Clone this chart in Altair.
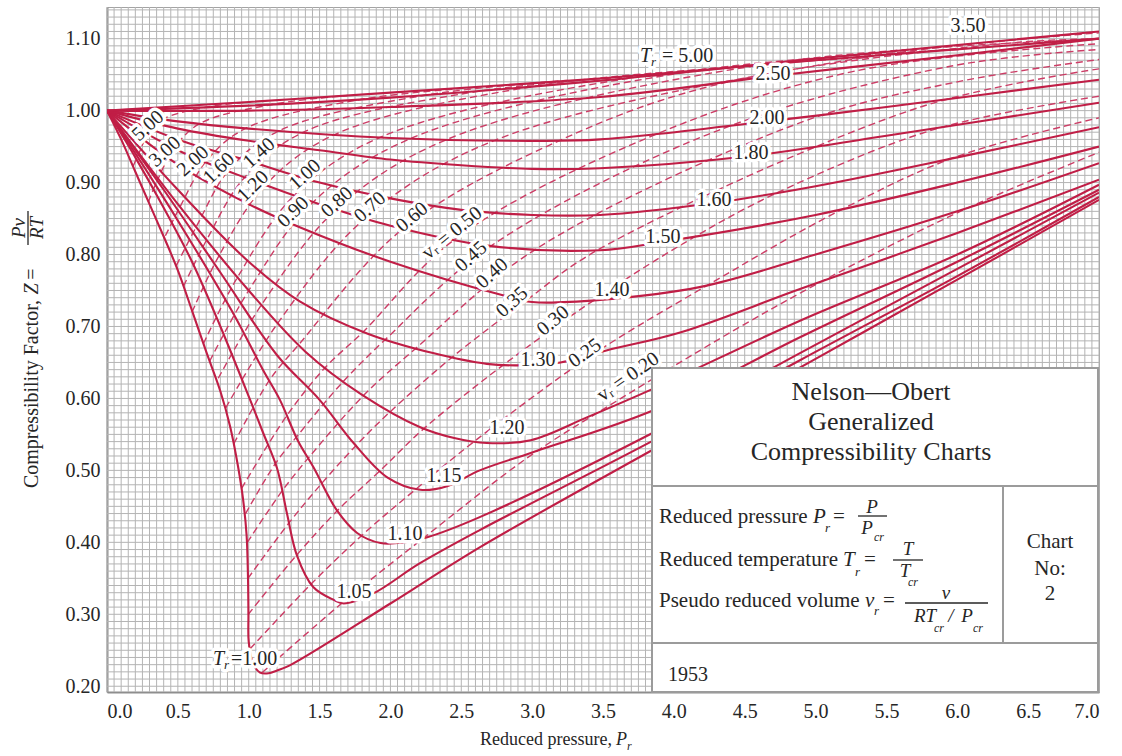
import altair as alt
import numpy as np
import pandas as pd

# ---------------------------------------------------------------- style
RED = "#c01e46"
RED_DASH = "#cc3d66"
INK = "#262626"
GRID = "#b4b4b4"
FRAME = "#8e8e8e"
SERIF = "Liberation Serif"

# ---------------------------------------------------------------- axes
PR_DOMAIN = [0.0, 7.0]
Z_DOMAIN = [0.192, 1.144]
X_TICKS = [0.0, 0.5, 1.0, 1.5, 2.0, 2.5, 3.0, 3.5, 4.0, 4.5, 5.0, 5.5, 6.0, 6.5, 7.0]
Y_TICKS = [0.2, 0.3, 0.4, 0.5, 0.6, 0.7, 0.8, 0.9, 1.0, 1.1]

# ---------------------------------------------------------------- isotherms (solid), T_r
T100_PR = [0.0, 0.1, 0.2, 0.3, 0.4, 0.5, 0.6, 0.7, 0.8, 0.87, 0.925, 0.96, 0.985, 0.995, 0.998, 1.0,
           1.03, 1.08, 1.14, 1.2, 1.29, 2.0, 2.63, 4.0, 5.0, 6.0, 7.0]
T100_Z = [1.0, 0.96, 0.915, 0.87, 0.825, 0.778, 0.722, 0.665, 0.61, 0.56, 0.505, 0.46, 0.41, 0.35, 0.30, 0.262,
          0.232, 0.219, 0.218, 0.222, 0.229, 0.315, 0.393, 0.545, 0.655, 0.765, 0.876]
T105_PR = [0.0, 0.2, 0.4, 0.6, 0.8, 1.01, 1.1, 1.2, 1.27, 1.34, 1.455, 1.6, 1.67, 1.88, 2.2, 2.63, 3.86, 4.89, 6.0, 7.0]
T105_Z = [1.0, 0.935, 0.865, 0.79, 0.70, 0.598, 0.553, 0.503, 0.44, 0.382, 0.338, 0.32, 0.315, 0.329, 0.37, 0.417,
          0.542, 0.653, 0.77, 0.88]
T110_PR = [0.0, 0.3, 0.6, 0.9, 1.1, 1.22, 1.35, 1.455, 1.62, 1.765, 1.93, 2.1, 2.26, 2.63, 3.86, 4.89, 6.0, 7.0]
T110_Z = [1.0, 0.91, 0.815, 0.715, 0.64, 0.598, 0.54, 0.505, 0.445, 0.413, 0.399, 0.40, 0.407, 0.435, 0.553,
          0.663, 0.78, 0.886]
T115_PR = [0.0, 0.4, 0.8, 1.2, 1.5, 1.74, 1.98, 2.21, 2.4, 2.63, 3.0, 3.86, 4.89, 6.0, 7.0]
T115_Z = [1.0, 0.89, 0.775, 0.66, 0.598, 0.538, 0.49, 0.473, 0.478, 0.50, 0.525, 0.584, 0.685, 0.79, 0.890]
T120_PR = [0.0, 0.5, 1.0, 1.4, 1.8, 2.21, 2.45, 2.68, 2.99, 3.39, 3.86, 4.89, 6.0, 7.0]
T120_Z = [1.0, 0.87, 0.75, 0.665, 0.605, 0.56, 0.545, 0.538, 0.542, 0.574, 0.614, 0.708, 0.80, 0.897]
T130_PR = [0.0, 0.5, 1.0, 1.36, 1.84, 2.3, 2.68, 2.92, 3.2, 3.53, 4.05, 4.89, 6.0, 7.0]
T130_Z = [1.0, 0.89, 0.79, 0.735, 0.69, 0.663, 0.648, 0.646, 0.65, 0.667, 0.692, 0.752, 0.83, 0.904]
T140_PR = [0.0, 0.5, 1.0, 1.36, 2.0, 2.78, 3.0, 3.48, 4.19, 5.0, 6.0, 7.0]
T140_Z = [1.0, 0.925, 0.87, 0.838, 0.79, 0.744, 0.734, 0.737, 0.755, 0.80, 0.86, 0.927]
T150_PR = [0.0, 0.5, 1.0, 1.5, 2.0, 2.7, 3.48, 3.93, 5.0, 6.0, 7.0]
T150_Z = [1.0, 0.945, 0.905, 0.87, 0.84, 0.812, 0.806, 0.818, 0.855, 0.90, 0.950]
T160_PR = [0.0, 0.5, 1.0, 1.5, 2.0, 2.5, 3.0, 3.48, 4.29, 5.0, 6.0, 7.0]
T160_Z = [1.0, 0.96, 0.93, 0.90, 0.878, 0.862, 0.855, 0.855, 0.872, 0.895, 0.935, 0.977]
T180_PR = [0.0, 0.5, 1.0, 1.5, 2.0, 2.5, 3.0, 3.48, 4.54, 5.5, 7.0]
T180_Z = [1.0, 0.975, 0.958, 0.945, 0.932, 0.924, 0.919, 0.92, 0.937, 0.965, 1.011]
T200_PR = [0.0, 0.5, 1.0, 2.0, 3.0, 3.48, 4.66, 5.5, 7.0]
T200_Z = [1.0, 0.985, 0.975, 0.962, 0.958, 0.96, 0.985, 1.005, 1.043]
T250_PR = [0.0, 1.0, 2.0, 3.48, 4.7, 6.0, 7.0]
T250_Z = [1.0, 1.0, 1.005, 1.019, 1.048, 1.077, 1.10]
T350_PR = [0.0, 1.0, 2.0, 3.5, 5.0, 7.0]
T350_Z = [1.0, 1.007, 1.018, 1.042, 1.072, 1.11]
T500_PR = [0.0, 1.0, 2.0, 3.5, 5.0, 7.0]
T500_Z = [1.0, 1.012, 1.025, 1.045, 1.07, 1.10]

# ---------------------------------------------------------------- pseudo reduced volume lines (dashed), v_r
V500_PR = [0.185, 0.226, 0.29, 0.395, 0.703, 1.012]
V500_Z = [0.923, 0.941, 0.968, 0.988, 1.005, 1.012]
V300_PR = [0.291, 0.362, 0.474, 0.655, 1.177, 1.70]
V300_Z = [0.873, 0.906, 0.948, 0.982, 1.009, 1.021]
V200_PR = [0.412, 0.52, 0.697, 0.975, 1.776, 2.58]
V200_Z = [0.826, 0.868, 0.929, 0.975, 1.015, 1.032]
V160_PR = [0.49, 0.631, 0.862, 1.215, 2.233, 3.25]
V160_Z = [0.785, 0.839, 0.918, 0.972, 1.021, 1.042]
V140_PR = [0.54, 0.705, 0.97, 1.386, 2.56, 3.74]
V140_Z = [0.756, 0.821, 0.907, 0.970, 1.025, 1.048]
V120_PR = [0.60, 0.795, 1.12, 1.61, 3.02, 4.42]
V120_Z = [0.720, 0.800, 0.897, 0.967, 1.034, 1.060]
V100_PR = [0.68, 0.92, 1.325, 1.93, 3.65, 5.37]
V100_Z = [0.676, 0.768, 0.883, 0.963, 1.044, 1.074]
V090_PR = [0.725, 1.0, 1.455, 2.14, 4.1, 6.03]
V090_Z = [0.652, 0.750, 0.873, 0.961, 1.054, 1.085]
V080_PR = [0.785, 1.10, 1.62, 2.40, 4.66, 6.85]
V080_Z = [0.628, 0.733, 0.863, 0.960, 1.065, 1.098]
V070_PR = [0.838, 1.21, 1.82, 2.74, 5.35, 7.0]
V070_Z = [0.587, 0.706, 0.850, 0.959, 1.074, 1.108]
V060_PR = [0.895, 1.145, 1.35, 2.09, 3.2, 4.32, 6.38, 7.0]
V060_Z = [0.537, 0.625, 0.674, 0.836, 0.959, 1.037, 1.094, 1.100]
V050_PR = [0.95, 1.265, 1.54, 1.8, 2.46, 3.86, 5.28, 7.0]
V050_Z = [0.475, 0.575, 0.643, 0.691, 0.822, 0.966, 1.055, 1.093]
V045_PR = [0.978, 1.19, 1.335, 1.66, 1.97, 2.71, 4.32, 5.96, 7.0]
V045_Z = [0.44, 0.51, 0.546, 0.622, 0.683, 0.812, 0.973, 1.062, 1.085]
V040_PR = [0.99, 1.238, 1.42, 1.81, 2.17, 3.03, 4.93, 6.0, 7.0]
V040_Z = [0.40, 0.472, 0.517, 0.604, 0.668, 0.808, 0.986, 1.04, 1.071]
V035_PR = [0.995, 1.284, 1.52, 1.76, 1.99, 2.44, 2.95, 3.46, 5.74, 7.0]
V035_Z = [0.35, 0.427, 0.483, 0.535, 0.58, 0.658, 0.735, 0.806, 1.005, 1.058]
V030_PR = [0.997, 1.337, 1.625, 1.93, 2.23, 2.80, 3.44, 4.09, 4.71, 5.84, 7.0]
V030_Z = [0.30, 0.382, 0.444, 0.50, 0.557, 0.647, 0.737, 0.818, 0.884, 0.974, 1.02]
V025_PR = [1.01, 1.44, 1.80, 2.18, 2.59, 3.42, 4.27, 5.14, 5.98, 7.0]
V025_Z = [0.252, 0.342, 0.41, 0.474, 0.54, 0.66, 0.761, 0.858, 0.935, 0.99]
V020_PR = [1.095, 1.655, 2.24, 2.97, 3.56, 4.74, 6.0, 7.0]
V020_Z = [0.219, 0.315, 0.407, 0.518, 0.592, 0.730, 0.858, 0.942]

# ---------------------------------------------------------------- curve labels
TR_LABEL_TEXT = ["3.50", "2.50", "2.00", "1.80", "1.60", "1.50", "1.40", "1.30", "1.20", "1.15", "1.10", "1.05"]
TR_LABEL_PR = [6.076, 4.700, 4.658, 4.545, 4.284, 3.924, 3.564, 3.042, 2.823, 2.378, 2.103, 1.743]
TR_LABEL_Z = [1.118, 1.051, 0.990, 0.941, 0.876, 0.824, 0.751, 0.653, 0.559, 0.492, 0.412, 0.331]

VR_LABEL_TEXT = ["5.00", "3.00", "2.00", "1.60", "1.40", "1.20", "1.00", "0.90", "0.80", "0.70", "0.60",
                 "v\u1d63 = 0.50", "0.45", "0.40", "0.35", "0.30", "0.25", "v\u1d63 = 0.20"]
VR_LABEL_PR = [0.289, 0.409, 0.607, 0.790, 1.073, 1.030, 1.397, 1.313, 1.623, 1.856, 2.152,
               2.435, 2.569, 2.717, 2.858, 3.148, 3.373, 3.677]
VR_LABEL_Z = [0.979, 0.943, 0.930, 0.920, 0.941, 0.895, 0.911, 0.859, 0.873, 0.866, 0.852,
              0.830, 0.797, 0.774, 0.734, 0.708, 0.663, 0.630]
VR_LABEL_ANGLE = [318, 318, 318, 316, 318, 316, 318, 316, 318, 318, 320,
                  321, 318, 318, 318, 320, 324, 325]


def long_table(series, key):
    rows = []
    for name, prs, zs in series:
        for i, (p, z) in enumerate(zip(prs, zs)):
            rows.append({key: name, "i": i, "Pr": p, "Z": z})
    return pd.DataFrame(rows)


iso_df = long_table([
    ("1.00", T100_PR, T100_Z), ("1.05", T105_PR, T105_Z), ("1.10", T110_PR, T110_Z),
    ("1.15", T115_PR, T115_Z), ("1.20", T120_PR, T120_Z), ("1.30", T130_PR, T130_Z),
    ("1.40", T140_PR, T140_Z), ("1.50", T150_PR, T150_Z), ("1.60", T160_PR, T160_Z),
    ("1.80", T180_PR, T180_Z), ("2.00", T200_PR, T200_Z), ("2.50", T250_PR, T250_Z),
    ("3.50", T350_PR, T350_Z), ("5.00", T500_PR, T500_Z),
], "Tr")

vr_df = long_table([
    ("5.00", V500_PR, V500_Z), ("3.00", V300_PR, V300_Z), ("2.00", V200_PR, V200_Z),
    ("1.60", V160_PR, V160_Z), ("1.40", V140_PR, V140_Z), ("1.20", V120_PR, V120_Z),
    ("1.00", V100_PR, V100_Z), ("0.90", V090_PR, V090_Z), ("0.80", V080_PR, V080_Z),
    ("0.70", V070_PR, V070_Z), ("0.60", V060_PR, V060_Z), ("0.50", V050_PR, V050_Z),
    ("0.45", V045_PR, V045_Z), ("0.40", V040_PR, V040_Z), ("0.35", V035_PR, V035_Z),
    ("0.30", V030_PR, V030_Z), ("0.25", V025_PR, V025_Z), ("0.20", V020_PR, V020_Z),
], "vr")

# ---------------------------------------------------------------- scales / encodings
XS = alt.Scale(domain=PR_DOMAIN, nice=False, zero=False)
YS = alt.Scale(domain=Z_DOMAIN, nice=False, zero=False)
X_AXIS = alt.Axis(values=X_TICKS, format=".1f", title=None, grid=False, ticks=False,
                  labelFont=SERIF, labelFontSize=20, labelColor=INK, labelPadding=9,
                  domainColor=FRAME, domainWidth=2)
Y_AXIS = alt.Axis(values=Y_TICKS, format=".2f", title=None, grid=False, ticks=False,
                  labelFont=SERIF, labelFontSize=20, labelColor=INK, labelPadding=7,
                  domainColor=FRAME, domainWidth=2)


def X():
    return alt.X("Pr:Q", scale=XS, axis=X_AXIS)


def Y():
    return alt.Y("Z:Q", scale=YS, axis=Y_AXIS)


def text_mark(df, size, style="normal", align="center", dx=0, dy=0, halo=False,
              pixel=False, angle=False, color=INK):
    if pixel:
        enc = {"x": alt.X("px:Q", scale=None, axis=None), "y": alt.Y("py:Q", scale=None, axis=None)}
    else:
        enc = {"x": X(), "y": Y()}
    enc["text"] = alt.Text("t:N")
    if angle:
        enc["angle"] = alt.Angle("a:Q", scale=None)
    props = dict(font=SERIF, fontSize=size, fontStyle=style, align=align, baseline="middle", dx=dx, dy=dy)
    if halo:
        mk = alt.Chart(df).mark_text(fill="white", stroke="white", strokeWidth=7, strokeJoin="round", **props)
    else:
        mk = alt.Chart(df).mark_text(fill=color, **props)
    return mk.encode(**enc)


# ---------------------------------------------------------------- grid
grid_pr = np.round(np.arange(0.0, 7.0 + 1e-9, 0.05), 2)
grid_z = np.round(np.arange(0.20, 1.14 + 1e-9, 0.01), 2)
vgrid = alt.Chart(pd.DataFrame({"Pr": grid_pr})).mark_rule(color=GRID, strokeWidth=1).encode(x=X())
hgrid = alt.Chart(pd.DataFrame({"Z": grid_z})).mark_rule(color=GRID, strokeWidth=1).encode(y=Y())

# ---------------------------------------------------------------- curves
dashed = alt.Chart(vr_df).mark_line(
    color=RED_DASH, strokeWidth=1.4, strokeDash=[7, 4], interpolate="catmull-rom", clip=True
).encode(x=X(), y=Y(), detail="vr:N", order="i:Q")
solid = alt.Chart(iso_df).mark_line(
    color=RED, strokeWidth=2.1, interpolate="catmull-rom", clip=True
).encode(x=X(), y=Y(), detail="Tr:N", order="i:Q")

# ---------------------------------------------------------------- curve labels
tr_lab = pd.DataFrame({"Pr": TR_LABEL_PR, "Z": TR_LABEL_Z, "t": TR_LABEL_TEXT})
vr_lab = pd.DataFrame({"Pr": VR_LABEL_PR, "Z": VR_LABEL_Z, "t": VR_LABEL_TEXT, "a": VR_LABEL_ANGLE})
tag_hi = pd.DataFrame({"Pr": [3.761], "Z": [1.076], "t": ["T"]})
tag_hi_r = pd.DataFrame({"Pr": [3.761], "Z": [1.076], "t": ["r"]})
tag_hi_v = pd.DataFrame({"Pr": [3.761], "Z": [1.076], "t": ["= 5.00"]})
tag_lo = pd.DataFrame({"Pr": [0.748], "Z": [0.238], "t": ["T"]})
tag_lo_r = pd.DataFrame({"Pr": [0.748], "Z": [0.238], "t": ["r"]})
tag_lo_v = pd.DataFrame({"Pr": [0.748], "Z": [0.238], "t": ["=1.00"]})

label_specs = [
    (tr_lab, dict(size=20)),
    (vr_lab, dict(size=20, angle=True)),
    (tag_hi, dict(size=20, style="italic", align="left")),
    (tag_hi_r, dict(size=13, style="italic", align="left", dx=11, dy=6)),
    (tag_hi_v, dict(size=20, align="left", dx=22)),
    (tag_lo, dict(size=20, style="italic", align="left")),
    (tag_lo_r, dict(size=13, style="italic", align="left", dx=11, dy=6)),
    (tag_lo_v, dict(size=20, align="left", dx=18)),
]
label_halos = [text_mark(df, halo=True, **kw) for df, kw in label_specs]
label_inks = [text_mark(df, **kw) for df, kw in label_specs]

# ---------------------------------------------------------------- title block (pixel positions in the plot frame)
one = pd.DataFrame({"k": [0]})
BOX = "#9b9b9b"
panel = alt.Chart(one).mark_rect(fill="white", stroke=BOX, strokeWidth=2).encode(
    x=alt.value(545), x2=alt.value(991), y=alt.value(361), y2=alt.value(685))
rules_px = pd.DataFrame({
    "x1": [545, 896, 545], "x2": [991, 896, 991],
    "y1": [479, 479, 636], "y2": [479, 636, 636],
})
panel_rules = alt.Chart(rules_px).mark_rule(color=BOX, strokeWidth=2).encode(
    x=alt.X("x1:Q", scale=None, axis=None), x2="x2:Q",
    y=alt.Y("y1:Q", scale=None, axis=None), y2="y2:Q")
bars_px = pd.DataFrame({
    "x1": [751, 786, 798], "x2": [780, 816, 881],
    "y1": [509, 553, 596], "y2": [509, 553, 596],
})
frac_bars = alt.Chart(bars_px).mark_rule(color=INK, strokeWidth=1.3).encode(
    x=alt.X("x1:Q", scale=None, axis=None), x2="x2:Q",
    y=alt.Y("y1:Q", scale=None, axis=None), y2="y2:Q")

title_txt = pd.DataFrame({"px": [764, 764, 764], "py": [385, 415, 445],
                          "t": ["Nelson\u2014Obert", "Generalized", "Compressibility Charts"]})
def_txt = pd.DataFrame({"px": [552, 552, 552], "py": [510, 553, 594],
                        "t": ["Reduced pressure", "Reduced temperature", "Pseudo reduced volume"]})
var_txt = pd.DataFrame({"px": [706, 736, 758], "py": [510, 553, 594], "t": ["P", "T", "v"]})
var_sub = pd.DataFrame({"px": [718, 748, 767], "py": [521, 565, 604], "t": ["r", "r", "r"]})
eq_txt = pd.DataFrame({"px": [726, 757, 776], "py": [510, 553, 594], "t": ["=", "=", "="]})
num_txt = pd.DataFrame({"px": [765, 801, 839, 760, 798, 818, 860],
                        "py": [500, 542, 586, 521, 564, 609, 609],
                        "t": ["P", "T", "v", "P", "T", "RT", "P"]})
num_sub = pd.DataFrame({"px": [772, 806, 832, 871], "py": [530, 575, 621, 621],
                        "t": ["cr", "cr", "cr", "cr"]})
slash_txt = pd.DataFrame({"px": [844], "py": [609], "t": ["/"]})
chart_no = pd.DataFrame({"px": [943, 943, 943], "py": [535, 562, 587], "t": ["Chart", "No:", "2"]})
year_txt = pd.DataFrame({"px": [581], "py": [668], "t": ["1953"]})

panel_text = [
    text_mark(title_txt, 26, pixel=True),
    text_mark(def_txt, 21, align="left", pixel=True),
    text_mark(var_txt, 21, style="italic", align="left", pixel=True),
    text_mark(var_sub, 13, style="italic", align="left", pixel=True),
    text_mark(eq_txt, 21, align="left", pixel=True),
    text_mark(num_txt, 19, style="italic", pixel=True),
    text_mark(num_sub, 12, style="italic", pixel=True),
    text_mark(slash_txt, 19, style="italic", pixel=True),
    text_mark(chart_no, 21, pixel=True),
    text_mark(year_txt, 20, pixel=True),
]

# ---------------------------------------------------------------- axis titles
xt_main = pd.DataFrame({"px": [505], "py": [733], "t": ["Reduced pressure,"]})
xt_var = pd.DataFrame({"px": [509], "py": [733], "t": ["P"]})
xt_sub = pd.DataFrame({"px": [520], "py": [739], "t": ["r"]})
yt_main = pd.DataFrame({"px": [-75], "py": [293], "t": ["Compressibility Factor,"], "a": [270]})
yt_z = pd.DataFrame({"px": [-75], "py": [282], "t": ["Z"], "a": [270]})
yt_eq = pd.DataFrame({"px": [-75], "py": [267], "t": ["="], "a": [270]})
yt_num = pd.DataFrame({"px": [-88], "py": [221], "t": ["Pv"], "a": [270]})
yt_den = pd.DataFrame({"px": [-70], "py": [221], "t": ["RT"], "a": [270]})
yt_bar = pd.DataFrame({"x1": [-79], "x2": [-79], "y1": [204], "y2": [238]})

axis_titles = [
    text_mark(xt_main, 18, align="right", pixel=True),
    text_mark(xt_var, 18, style="italic", align="left", pixel=True),
    text_mark(xt_sub, 12, style="italic", align="left", pixel=True),
    text_mark(yt_main, 20, align="right", pixel=True, angle=True),
    text_mark(yt_z, 20, style="italic", pixel=True, angle=True),
    text_mark(yt_eq, 20, pixel=True, angle=True),
    text_mark(yt_num, 19, style="italic", pixel=True, angle=True),
    text_mark(yt_den, 19, style="italic", pixel=True, angle=True),
    alt.Chart(yt_bar).mark_rule(color=INK, strokeWidth=1.3).encode(
        x=alt.X("x1:Q", scale=None, axis=None), x2="x2:Q",
        y=alt.Y("y1:Q", scale=None, axis=None), y2="y2:Q"),
]

chart = alt.layer(
    hgrid, vgrid, dashed, solid,
    *label_halos, *label_inks,
    panel, panel_rules, frac_bars, *panel_text,
    *axis_titles,
).properties(
    width=992, height=685,
    autosize=alt.AutoSizeParams(type="none"),
    padding={"left": 107, "top": 7, "right": 23, "bottom": 64},
    background="white",
).configure_view(stroke="#a3a3a3", strokeWidth=1)

chart.save("out.html", embed_options={"renderer": "svg", "actions": False})
